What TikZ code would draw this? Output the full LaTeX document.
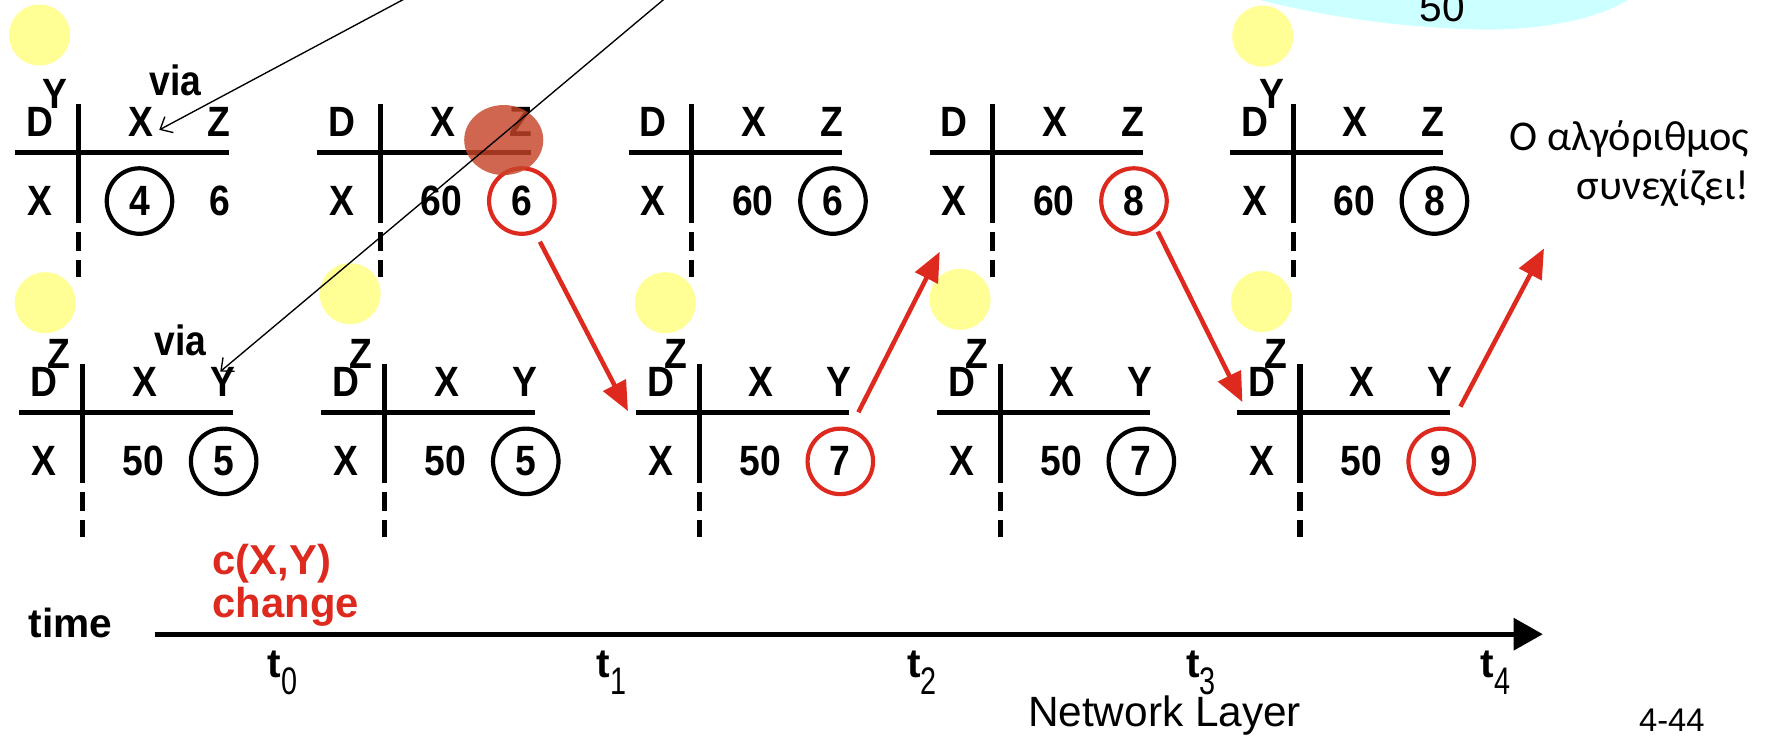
\documentclass[tikz,border=0pt]{standalone}
\usepackage{fontspec}
\setmainfont{Liberation Sans}
\newfontfamily\grkfont{Carlito}
\newfontfamily\tblfont[FakeStretch=0.88]{Liberation Sans}
\newfontfamily\narrowfont[FakeStretch=0.75]{Liberation Sans}
\usetikzlibrary{arrows.meta,calc}
\definecolor{myred}{RGB}{221,41,30}
\definecolor{myyellow}{RGB}{255,255,150}
\definecolor{mycyan}{RGB}{204,255,255}
\definecolor{mybrown}{RGB}{198,68,40}
\newcommand\fsz[1]{\fontsize{#1}{#1}\selectfont}
\tikzset{
 tline/.style={line width=4.5pt},
 tdash/.style={line width=4.5pt, dash pattern=on 17pt off 8pt},
 tt/.style={inner sep=0pt, font=\tblfont\fsz{37.5}\bfseries},
 nocirc/.style={},
 cblack/.style={draw=black, circle, minimum size=58pt, line width=3.7pt},
 cred/.style={draw=myred, circle, minimum size=58pt, line width=3.7pt},
 yel/.style={fill=myyellow, circle, minimum size=54pt, inner sep=0pt},
 redarrow/.style={draw=myred, line width=4pt, -{Triangle[length=26pt,width=22pt]}},
 thinarrow/.style={line width=1.2pt, -{Straight Barb[length=9pt,width=16pt]}},
 lbl/.style={inner sep=0pt, anchor=base west},
 tlab/.style={lbl, font=\fsz{36}\bfseries},
}
\newcommand\tsub[1]{\raisebox{-15pt}{\narrowfont\fsz{34}\mdseries #1}}
\newcommand\dvtable[9]{%
\begin{scope}[shift={(#2,#3)}]
\draw[tline] (-56,0) -- (133,0);
\draw[tline] (0,-43) -- (0,62);
\draw[tdash] (0,70) -- (0,110);
\node[tt] (#1D) at (-34,-27) {D};
\node[tt] (#1h1) at (55,-27) {#4};
\node[tt] (#1h2) at (124,-27) {#5};
\node[tt] (#1r) at (-34,43) {X};
\node[tt,#8] (#1v1) at (54,43) {#6};
\node[tt,#9] (#1v2) at (125,43) {#7};
\end{scope}}
\begin{document}
\begin{tikzpicture}[x=1pt,y=-1pt]
\useasboundingbox (0,0) rectangle (1568,652);
% cyan blob
\fill[mycyan] (1108,-30) -- (1108,-2) .. controls (1160,12) and (1230,24) .. (1306,26) .. controls (1375,28) and (1425,12) .. (1444,-2) -- (1444,-30) -- cycle;
\node[inner sep=0pt, anchor=base, font=\fsz{36}] (fifty) at (1277,19) {50};
% yellow circles
\node[yel] (y1) at (35,31) {};
\node[yel] (y2) at (40,268) {};
\node[yel] (y3) at (310,260) {};
\node[yel] (y4) at (589,268) {};
\node[yel] (y5) at (850,265) {};
\node[yel] (y6) at (1118,32) {};
\node[yel] (y7) at (1117,267) {};
% tables
\dvtable{T1}{69.5}{135}{X}{Z}{4}{6}{cblack}{nocirc}
\dvtable{T2}{337}{135}{X}{Z}{60}{6}{nocirc}{cred}
\dvtable{T3}{612.5}{135}{X}{Z}{60}{6}{nocirc}{cblack}
\dvtable{T4}{879}{135}{X}{Z}{60}{8}{nocirc}{cred}
\dvtable{T5}{1145}{135}{X}{Z}{60}{8}{nocirc}{cblack}
\dvtable{B1}{73}{365.5}{X}{Y}{50}{5}{nocirc}{cblack}
\dvtable{B2}{340.5}{365.5}{X}{Y}{50}{5}{nocirc}{cblack}
\dvtable{B3}{619}{365.5}{X}{Y}{50}{7}{nocirc}{cred}
\dvtable{B4}{885.5}{365.5}{X}{Y}{50}{7}{nocirc}{cblack}
\dvtable{B5}{1151}{365.5}{X}{Y}{50}{9}{nocirc}{cred}
% superscripts
\node[tt] (T1s) at ($(T1D)+(13,-25)$) {Y};
\node[tt] (T5s) at ($(T5D)+(15,-25)$) {Y};
\node[tt] (B1s) at ($(B1D)+(13,-25)$) {Z};
\node[tt] (B2s) at ($(B2D)+(13,-25)$) {Z};
\node[tt] (B3s) at ($(B3D)+(13,-25)$) {Z};
\node[tt] (B4s) at ($(B4D)+(13,-25)$) {Z};
\node[tt] (B5s) at ($(B5D)+(13,-25)$) {Z};
\node[tt] (T1via) at ($(T1h1)+(31,-37)$) {via};
\node[tt] (B1via) at ($(B1h1)+(32,-37)$) {via};
% brown blob
\fill[mybrown, fill opacity=0.82] (446,124) ellipse [x radius=35pt, y radius=31pt];
% red arrows
\coordinate (r1s) at (478,214); \coordinate (r1e) at (556,364);
\coordinate (r2s) at (760,365); \coordinate (r2e) at (832,223);
\coordinate (r3s) at (1025,205); \coordinate (r3e) at (1100,356);
\coordinate (r4s) at (1293,360); \coordinate (r4e) at (1367,220);
\draw[redarrow] (r1s) -- (r1e);
\draw[redarrow] (r2s) -- (r2e);
\draw[redarrow] (r3s) -- (r3e);
\draw[redarrow] (r4s) -- (r4e);
% thin black arrows
\coordinate (aAs) at (375,-10); \coordinate (aAe) at (141,115);
\coordinate (aBs) at (599,-10); \coordinate (aBe) at (195,329);
\draw[thinarrow] (aAs) -- (aAe);
\draw[thinarrow] (aBs) -- (aBe);
% Greek text
\node[inner sep=0pt, anchor=base east, font=\grkfont\fsz{37.5}] (g1) at (1549,133) {Ο αλγόριθμος};
\node[inner sep=0pt, anchor=base east, font=\grkfont\fsz{37.5}] (g2) at (1549,177) {συνεχίζει!};
% time axis
\node[lbl, font=\fsz{36}\bfseries] (time) at (25,564) {time};
\coordinate (axs) at (137,561.5); \coordinate (axe) at (1366,561.5);
\draw[line width=4.5pt, -{Triangle[length=26pt,width=28pt]}] (axs) -- (axe);
\node[lbl, font=\fsz{37}\bfseries, text=myred] (cxy) at (188,509) {c(X,Y)};
\node[lbl, font=\fsz{37}\bfseries, text=myred] (chg) at (188,547) {change};
\node[tlab] (t0) at (237,600) {t\tsub{0}};
\node[tlab] (t1) at (528,600) {t\tsub{1}};
\node[tlab] (t2) at (803,600) {t\tsub{2}};
\node[tlab] (t3) at (1050,600) {t\tsub{3}};
\node[tlab] (t4) at (1311,600) {t\tsub{4}};
\node[lbl, font=\fsz{37.5}] (nl) at (910,643) {Network Layer};
\node[lbl, font=\fsz{29}] (pg) at (1451,648) {4-44};
\end{tikzpicture}
\end{document}
